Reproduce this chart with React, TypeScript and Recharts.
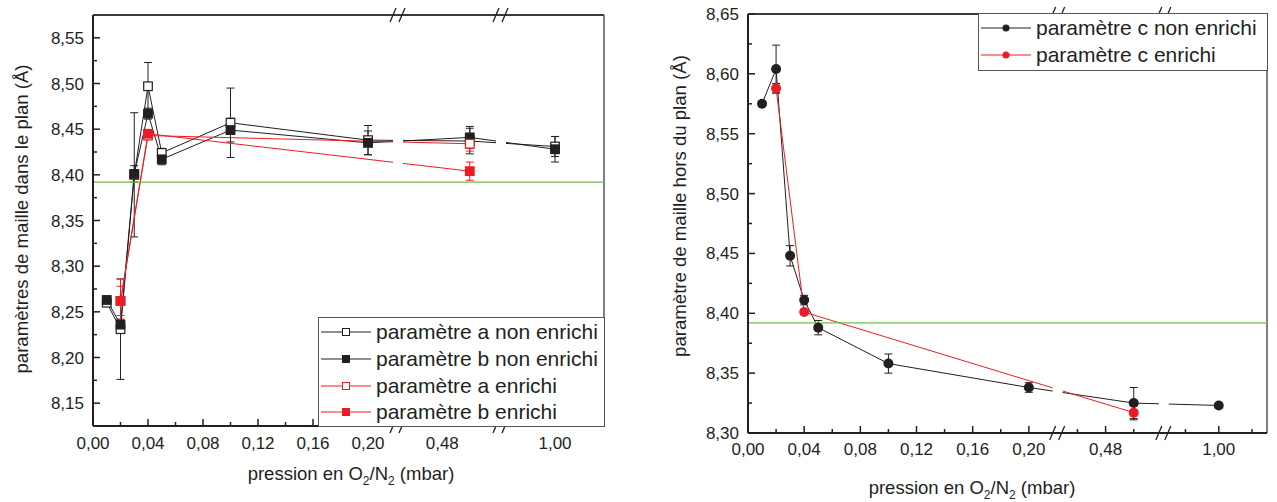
import React from 'react';
import { LineChart, Line, XAxis, YAxis, ErrorBar, ReferenceLine } from 'recharts';

const FONT = '"Liberation Sans", Arial, sans-serif';
const INK = '#231f20';
const RED = '#ed1c24';
const GREEN = '#6cbf4a';

// paramètres dans le plan (a, b)
const pressPlan = [0.01, 0.02, 0.03, 0.04, 0.05, 0.1, 0.2, 0.5, 1.0];
const aNonEnrichi = [8.26, 8.231, 8.4, 8.497, 8.424, 8.457, 8.438, 8.437, 8.431];
const aNonEnrichiErr = [0.003, 0.055, 0.068, 0.026, 0.005, 0.038, 0.016, 0.014, 0.011];
const bNonEnrichi = [8.263, 8.236, 8.401, 8.467, 8.417, 8.449, 8.435, 8.441, 8.428];
const bNonEnrichiErr = [0.003, 0.006, 0.009, 0.006, 0.006, 0.013, 0.013, 0.012, 0.014];
const pressPlanEnrichi = [0.02, 0.04, 0.5];
const aEnrichi = [8.262, 8.443, 8.434];
const aEnrichiErr = [0.024, 0.004, 0.008];
const bEnrichi = [8.262, 8.445, 8.404];
const bEnrichiErr = [0.016, 0.004, 0.01];

// paramètre hors du plan (c)
const pressHors = [0.01, 0.02, 0.03, 0.04, 0.05, 0.1, 0.2, 0.5, 1.0];
const cNonEnrichi = [8.575, 8.604, 8.448, 8.411, 8.388, 8.358, 8.338, 8.325, 8.323];
const cNonEnrichiErr = [0, 0.02, 0.0085, 0.004, 0.006, 0.008, 0.004, 0.013, 0.002];
const pressHorsEnrichi = [0.02, 0.04, 0.5];
const cEnrichi = [8.588, 8.401, 8.317];
const cEnrichiErr = [0.004, 0.002, 0.006];

// reference (green line)
const refValue = 8.392;

// axis ticks
const xMajor = [0, 0.04, 0.08, 0.12, 0.16, 0.2, 0.48, 1.0];
const xMinor = [0.02, 0.06, 0.1, 0.14, 0.18, 0.46, 0.5, 0.98, 1.02];
const yPlanMajor = [8.15, 8.2, 8.25, 8.3, 8.35, 8.4, 8.45, 8.5, 8.55];
const yPlanMinor = [8.175, 8.225, 8.275, 8.325, 8.375, 8.425, 8.475, 8.525];
const yHorsMajor = [8.3, 8.35, 8.4, 8.45, 8.5, 8.55, 8.6, 8.65];
const yHorsMinor = [8.325, 8.375, 8.425, 8.475, 8.525, 8.575, 8.625];

// broken x axis: each segment = pressure range drawn over w px
type Seg = { lo: number; hi: number; w: number };
const segPlan: Seg[] = [
  { lo: 0, hi: 0.2218, w: 305 },
  { lo: 0.4478, hi: 0.5227, w: 103 },
  { lo: 0.9607, hi: 1.0356, w: 103 },
];
const segHors: Seg[] = [
  { lo: 0, hi: 0.2205, w: 310 },
  { lo: 0.4459, hi: 0.5214, w: 106.3 },
  { lo: 0.967, hi: 1.029, w: 103.3 },
];

const makePos = (segs: Seg[]) => (v: number) => {
  let off = 0;
  for (const s of segs) {
    if (v <= s.hi) return off + (Math.max(0, v - s.lo) / (s.hi - s.lo)) * s.w;
    off += s.w;
  }
  return off;
};
const total = (segs: Seg[]) => segs.reduce((t, s) => t + s.w, 0);
const breaks = (segs: Seg[]) => segs.slice(0, -1).map((_, i) => segs.slice(0, i + 1).reduce((t, s) => t + s.w, 0));

const fmt = (v: number) => v.toFixed(2).replace('.', ',');

const rows = (xs: number[], ys: number[], es: number[], pos: (v: number) => number) =>
  xs.map((p, i) => ({ x: pos(p), y: ys[i], err: es[i] }));

const square = (fill: string, stroke: string) => (p: any) => (
  <rect key={`sq-${p.index}`} x={p.cx - 4.3} y={p.cy - 4.3} width={8.6} height={8.6} fill={fill} stroke={stroke} strokeWidth={1.2} />
);
const circle = (fill: string) => (p: any) => <circle key={`c-${p.index}`} cx={p.cx} cy={p.cy} r={5} fill={fill} />;

const makeXTick = (pos: (v: number) => number, dy: number) => {
  const items = [
    ...xMajor.map(v => ({ at: pos(v), label: fmt(v), major: true })),
    ...xMinor.map(v => ({ at: pos(v), label: '', major: false })),
  ];
  const ticks = items.map(t => t.at);
  const render = (p: any) => {
    const it = items.find(t => Math.abs(t.at - p.payload.value) < 0.01);
    if (!it) return <g />;
    return (
      <g>
        <line x1={p.x} x2={p.x} y1={p.y} y2={p.y - (it.major ? 7 : 4)} stroke={INK} strokeWidth={1.5} />
        {it.label && (
          <text x={p.x} y={p.y + dy} textAnchor="middle" fontSize={17} fill={INK} fontFamily={FONT}>
            {it.label}
          </text>
        )}
      </g>
    );
  };
  return { ticks, render };
};

const makeYTick = (major: number[], minor: number[]) => {
  const ticks = [...major, ...minor];
  const render = (p: any) => {
    const v = p.payload.value;
    const isMajor = major.some(m => Math.abs(m - v) < 1e-6);
    return (
      <g>
        <line x1={p.x} x2={p.x + (isMajor ? 7 : 4)} y1={p.y} y2={p.y} stroke={INK} strokeWidth={1.5} />
        {isMajor && (
          <text x={p.x - 9} y={p.y + 6} textAnchor="end" fontSize={17} fill={INK} fontFamily={FONT}>
            {fmt(v)}
          </text>
        )}
      </g>
    );
  };
  return { ticks, render };
};

const BreakMark = (p: any) => {
  const x = p.x1;
  const top = Math.min(p.y1, p.y2);
  const bot = Math.max(p.y1, p.y2);
  const slash = (y: number) => (
    <g stroke={INK} strokeWidth={1.3}>
      <line x1={x - 8} y1={y + 7} x2={x - 2} y2={y - 7} />
      <line x1={x + 1} y1={y + 7} x2={x + 7} y2={y - 7} />
    </g>
  );
  return (
    <g>
      <rect x={x - 5} y={top + 3} width={10} height={bot - top - 6} fill="#fff" />
      {slash(top)}
      {slash(bot)}
    </g>
  );
};

type LegendItem = { label: string; color: string; marker: 'open' | 'filled' | 'dot' };

function LegendBox({ items, left, top, width, height, rowH }: { items: LegendItem[]; left: number; top: number; width: number; height: number; rowH: number }) {
  return (
    <div
      style={{
        position: 'absolute', left, top, width, height, boxSizing: 'border-box',
        border: '1.5px solid #555', background: '#fff', paddingTop: 1,
      }}
    >
      {items.map(it => (
        <div key={it.label} style={{ display: 'flex', alignItems: 'center', height: rowH }}>
          <svg width={54} height={14} style={{ marginLeft: 2, flex: 'none' }}>
            <line x1={0} x2={50} y1={7} y2={7} stroke={it.color} strokeWidth={1} />
            {it.marker === 'dot' ? (
              <circle cx={25} cy={7} r={3.5} fill={it.color} />
            ) : (
              <rect x={21.5} y={3.5} width={7} height={7} fill={it.marker === 'open' ? '#fff' : it.color} stroke={it.color} strokeWidth={1} />
            )}
          </svg>
          <span style={{ fontSize: 21, color: INK, marginLeft: 1, whiteSpace: 'nowrap' }}>{it.label}</span>
        </div>
      ))}
    </div>
  );
}

const planLegend: LegendItem[] = [
  { label: 'paramètre a non enrichi', color: INK, marker: 'open' },
  { label: 'paramètre b non enrichi', color: INK, marker: 'filled' },
  { label: 'paramètre a enrichi', color: RED, marker: 'open' },
  { label: 'paramètre b enrichi', color: RED, marker: 'filled' },
];
const horsLegend: LegendItem[] = [
  { label: 'paramètre c non enrichi', color: INK, marker: 'dot' },
  { label: 'paramètre c enrichi', color: RED, marker: 'dot' },
];

function XTitle({ x, y }: { x: number; y: number }) {
  return (
    <text x={x} y={y} textAnchor="middle" fontSize={18.5} fill={INK} fontFamily={FONT}>
      pression en O<tspan dy={5} fontSize={12}>2</tspan>
      <tspan dy={-5}>/N</tspan>
      <tspan dy={5} fontSize={12}>2</tspan>
      <tspan dy={-5}> (mbar)</tspan>
    </text>
  );
}

function YTitle({ x, y, text }: { x: number; y: number; text: string }) {
  return (
    <text x={x} y={y} transform={`rotate(-90 ${x} ${y})`} textAnchor="middle" fontSize={18.6} fill={INK} fontFamily={FONT}>
      {text}
    </text>
  );
}

function PlanChart() {
  const pos = makePos(segPlan);
  const W = total(segPlan);
  const xt = makeXTick(pos, 23);
  const yt = makeYTick(yPlanMajor, yPlanMinor);
  const yDom: [number, number] = [8.125, 8.575];
  return (
    <LineChart width={620} height={502} margin={{ top: 15, right: 16, bottom: 75, left: 92 }}>
      <XAxis type="number" dataKey="x" domain={[0, W]} allowDataOverflow ticks={xt.ticks} interval={0} tick={xt.render}
        tickLine={false} tickSize={0} tickMargin={0} height={1} axisLine={{ stroke: INK, strokeWidth: 2 }} />
      <YAxis type="number" domain={yDom} allowDataOverflow ticks={yt.ticks} interval={0} tick={yt.render}
        tickLine={false} tickSize={0} tickMargin={0} width={1} axisLine={{ stroke: INK, strokeWidth: 2 }} />
      <ReferenceLine y={yDom[1]} stroke="#3a3a3a" strokeWidth={2} />
      <ReferenceLine x={W} stroke="#555" strokeWidth={1.5} />
      <Line data={rows(pressPlan, aNonEnrichi, aNonEnrichiErr, pos)} dataKey="y" stroke={INK} strokeWidth={1}
        dot={square('#fff', INK)} activeDot={false} isAnimationActive={false}>
        <ErrorBar dataKey="err" direction="y" width={4} stroke={INK} strokeWidth={1} />
      </Line>
      <Line data={rows(pressPlan, bNonEnrichi, bNonEnrichiErr, pos)} dataKey="y" stroke={INK} strokeWidth={1}
        dot={square(INK, INK)} activeDot={false} isAnimationActive={false}>
        <ErrorBar dataKey="err" direction="y" width={4} stroke={INK} strokeWidth={1} />
      </Line>
      <Line data={rows(pressPlanEnrichi, aEnrichi, aEnrichiErr, pos)} dataKey="y" stroke={RED} strokeWidth={1}
        dot={square('#fff', RED)} activeDot={false} isAnimationActive={false}>
        <ErrorBar dataKey="err" direction="y" width={4} stroke={RED} strokeWidth={1} />
      </Line>
      <Line data={rows(pressPlanEnrichi, bEnrichi, bEnrichiErr, pos)} dataKey="y" stroke={RED} strokeWidth={1}
        dot={square(RED, RED)} activeDot={false} isAnimationActive={false}>
        <ErrorBar dataKey="err" direction="y" width={4} stroke={RED} strokeWidth={1} />
      </Line>
      {breaks(segPlan).map(b => (
        <ReferenceLine key={b} x={b} shape={BreakMark} {...({ zIndex: 450 } as any)} />
      ))}
      <ReferenceLine y={refValue} stroke={GREEN} strokeWidth={1.2} {...({ zIndex: 460 } as any)} />
    </LineChart>
  );
}

function HorsChart() {
  const pos = makePos(segHors);
  const W = total(segHors);
  const xt = makeXTick(pos, 22);
  const yt = makeYTick(yHorsMajor, yHorsMinor);
  const yDom: [number, number] = [8.3, 8.65];
  return (
    <LineChart width={637} height={502} margin={{ top: 14, right: 10, bottom: 68, left: 107 }}>
      <XAxis type="number" dataKey="x" domain={[0, W]} allowDataOverflow ticks={xt.ticks} interval={0} tick={xt.render}
        tickLine={false} tickSize={0} tickMargin={0} height={1} axisLine={{ stroke: INK, strokeWidth: 2 }} />
      <YAxis type="number" domain={yDom} allowDataOverflow ticks={yt.ticks} interval={0} tick={yt.render}
        tickLine={false} tickSize={0} tickMargin={0} width={1} axisLine={{ stroke: INK, strokeWidth: 2 }} />
      <ReferenceLine y={yDom[1]} stroke="#3a3a3a" strokeWidth={2} />
      <ReferenceLine x={W} stroke="#555" strokeWidth={1.5} />
      <Line data={rows(pressHors, cNonEnrichi, cNonEnrichiErr, pos)} dataKey="y" stroke={INK} strokeWidth={1}
        dot={circle(INK)} activeDot={false} isAnimationActive={false}>
        <ErrorBar dataKey="err" direction="y" width={4} stroke={INK} strokeWidth={1} />
      </Line>
      <Line data={rows(pressHorsEnrichi, cEnrichi, cEnrichiErr, pos)} dataKey="y" stroke={RED} strokeWidth={1}
        dot={circle(RED)} activeDot={false} isAnimationActive={false}>
        <ErrorBar dataKey="err" direction="y" width={4} stroke={INK} strokeWidth={1} />
      </Line>
      {breaks(segHors).map(b => (
        <ReferenceLine key={b} x={b} shape={BreakMark} {...({ zIndex: 450 } as any)} />
      ))}
      <ReferenceLine y={refValue} stroke={GREEN} strokeWidth={1.2} {...({ zIndex: 460 } as any)} />
    </LineChart>
  );
}

export default function App() {
  return (
    <div style={{ position: 'absolute', left: 0, top: 0, width: 1277, height: 502, background: '#fff', fontFamily: FONT, overflow: 'hidden' }}>
      <div style={{ position: 'absolute', left: 0, top: 0 }}>
        <PlanChart />
      </div>
      <div style={{ position: 'absolute', left: 640, top: 0 }}>
        <HorsChart />
      </div>
      <LegendBox items={planLegend} left={318} top={317} width={287} height={110} rowH={26.7} />
      <LegendBox items={horsLegend} left={978} top={13} width={290} height={58} rowH={26.7} />
      <svg width={1277} height={502} style={{ position: 'absolute', left: 0, top: 0, pointerEvents: 'none' }}>
        <YTitle x={28} y={219} text="paramètres de maille dans le plan (Å)" />
        <YTitle x={686} y={206} text="paramètre de maille hors du plan (Å)" />
        <XTitle x={351} y={480} />
        <XTitle x={972} y={494} />
      </svg>
    </div>
  );
}
